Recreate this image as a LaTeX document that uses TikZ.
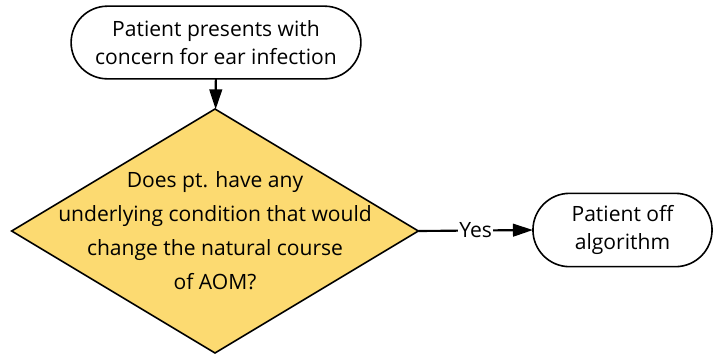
\documentclass[tikz,border=0pt]{standalone}
\usepackage{fontspec}
\setmainfont{Open Sans}
\usetikzlibrary{shapes.geometric, shapes.misc, arrows.meta}
\definecolor{decisionfill}{RGB}{252,218,113}

\begin{document}
\begin{tikzpicture}[x=0.75pt,y=0.75pt,yscale=-1,xscale=1,
  terminal/.style={rounded rectangle, draw=black, line width=1.2pt, fill=white, outer sep=0pt, align=center, font=\fontsize{15.8}{21.5}\selectfont},
  decision/.style={diamond, draw=black, line width=1.2pt, fill=decisionfill, inner sep=0pt, outer sep=0pt},
  arrow/.style={line width=1.6pt, -{Triangle[length=15pt,width=9.5pt]}}]
\useasboundingbox (0,0) rectangle (713,355);

%Terminal [start]
\node [terminal, minimum width=224pt, minimum height=54.5pt] (start) at (216,42.5) {Patient presents with\\concern for ear infection};
%Decision
\node [decision, minimum width=305pt, minimum height=183pt] (cond) at (215,231) {};
% Text Node
\node [align=center, inner sep=0pt, font=\fontsize{15.8}{25.5}\selectfont] (condtext) at (cond.center) {Does pt. have any\\underlying condition that would\\change the natural course\\of AOM?};
%Terminal [off]
\node [terminal, minimum width=141pt, minimum height=55pt] (off) at (622.5,230) {Patient off\\algorithm};

%Connectors
\draw [arrow] (start) -- (cond);
\draw [arrow] (cond.east) -- node [fill=white, inner sep=1pt, font=\fontsize{15.8}{19}\selectfont] (yes) {Yes} (off.west);

\end{tikzpicture}
\end{document}
